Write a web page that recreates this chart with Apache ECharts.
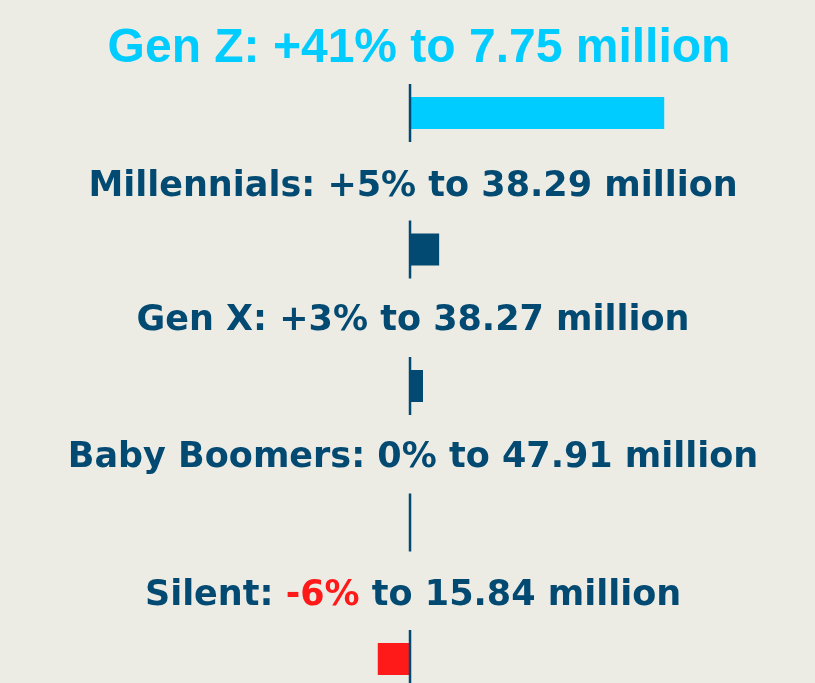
<!DOCTYPE html>
<html>
<head>
<meta charset="utf-8">
<script src="https://cdn.jsdelivr.net/npm/echarts@6/dist/echarts.min.js"></script>
<style>
  html, body { margin: 0; padding: 0; background: #ecebe4; }
  #chart { width: 815px; height: 683px; }
</style>
</head>
<body>
<div id="chart"></div>
<script>
const generations = ["Gen Z", "Millennials", "Gen X", "Baby Boomers", "Silent"];
// percent change
const changeValues = [41, 4.7, 2.1, 0, -5.2];
const changeLabels = ["+41%", "+5%", "+3%", "0%", "-6%"];
const populations = ["7.75", "38.29", "38.27", "47.91", "15.84"];

const CYAN = "#00ccff";
const NAVY = "#034a72";
const RED = "#ff1a1a";

const barColors = [CYAN, NAVY, NAVY, NAVY, RED];
// vertical nudge of each title above its bar
const labelLift = [-64, -63, -65, -65, -63];

const chart = echarts.init(document.getElementById("chart"));

const labelData = generations.map((g, i) => {
  const isZ = i === 0;
  const pctStyle = isZ ? "big" : changeValues[i] < 0 ? "neg" : "txt";
  const nameStyle = isZ ? "big" : "txt";
  return {
    value: [0, g],
    label: {
      offset: [isZ ? 9 : 3, labelLift[i]],
      formatter: `{${nameStyle}|${g}: }{${pctStyle}|${changeLabels[i]}}{${nameStyle}| to ${populations[i]} million}`,
    },
  };
});

const baseText = { fontFamily: "DejaVu Sans", fontWeight: "bold", fontSize: 35, color: NAVY };

chart.setOption({
  backgroundColor: "#ecebe4",
  animation: false,
  grid: { left: 0, right: 0, top: 44.75, height: 682.5, outerBoundsMode: "none" },
  xAxis: { type: "value", min: -66.13, max: 65.32, show: false },
  yAxis: { type: "category", data: generations, inverse: true, show: false },
  series: [
    {
      type: "bar",
      barWidth: 32,
      data: changeValues.map((v, i) => ({ value: v, itemStyle: { color: barColors[i] } })),
      z: 2,
    },
    {
      // zero line, drawn per row
      type: "scatter",
      symbol: "rect",
      symbolSize: [2.5, 58],
      itemStyle: { color: NAVY, opacity: 1 },
      data: generations.map((g) => [0, g]),
      z: 3,
    },
    {
      type: "scatter",
      symbolSize: 0,
      itemStyle: { opacity: 1 },
      data: labelData,
      label: {
        show: true,
        position: "inside",
        rich: {
          txt: baseText,
          neg: Object.assign({}, baseText, { color: RED }),
          big: { fontFamily: "Liberation Sans", fontWeight: "bold", fontSize: 48, color: CYAN },
        },
      },
      z: 4,
    },
  ],
});
</script>
</body>
</html>
